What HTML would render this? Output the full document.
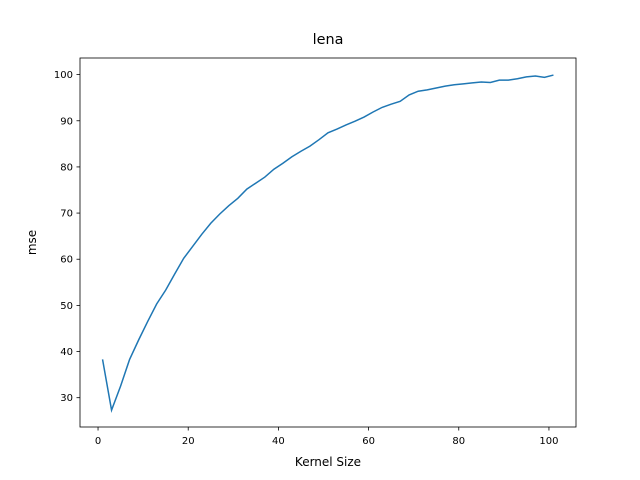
<!DOCTYPE html>
<html><head><meta charset="utf-8"><style>body{margin:0;background:#fff}svg{display:block;font-family:"DejaVu Sans","Liberation Sans",sans-serif}</style></head>
<body>
<svg id="chart" width="640" height="480">
<rect width="640" height="480" fill="#fff"/>
<text x="328" y="44" font-size="14.4" text-anchor="middle">lena</text>
<g id="ticks"></g>
<path id="line" fill="none" stroke="#1f77b4" stroke-width="1.5"/>
<rect x="80" y="58" width="496" height="369" fill="none" stroke="#000" stroke-width="0.8"/>
<text x="328" y="466" font-size="12" text-anchor="middle">Kernel Size</text>
<text x="36" y="242.5" font-size="12" text-anchor="middle" transform="rotate(-90 36 242.5)">mse</text>
</svg>
<script>
const kernelSizes = [1,3,5,7,9,11,13,15,17,19,21,23,25,27,29,31,33,35,37,39,41,43,45,47,49,51,53,55,57,59,61,63,65,67,69,71,73,75,77,79,81,83,85,87,89,91,93,95,97,99,101];
const mseValues = [38.3,27.3,32.5,38.3,42.5,46.5,50.3,53.3,56.8,60.2,62.8,65.4,67.8,69.8,71.6,73.2,75.2,76.5,77.8,79.5,80.8,82.2,83.4,84.5,85.9,87.4,88.2,89.1,89.9,90.8,91.9,92.9,93.6,94.2,95.6,96.4,96.7,97.1,97.5,97.8,98.0,98.2,98.4,98.3,98.8,98.8,99.1,99.5,99.7,99.4,99.9];
const xTicks = [0,20,40,60,80,100];
const yTicks = [30,40,50,60,70,80,90,100];
const x0=80,x1=576,y0=427,y1=58;
const xmin=-4,xmax=106,ymin=23.65,ymax=103.6;
const sx=v=>x0+(v-xmin)/(xmax-xmin)*(x1-x0);
const sy=v=>y0-(v-ymin)/(ymax-ymin)*(y0-y1);
const NS="http://www.w3.org/2000/svg";
const g=document.getElementById('ticks');
function mk(t,a){const e=document.createElementNS(NS,t);for(const k in a)e.setAttribute(k,a[k]);g.appendChild(e);return e;}
xTicks.forEach(v=>{
  const l=mk('line',{x1:sx(v),x2:sx(v),y1:y0,y2:y0+3.5,stroke:'#000','stroke-width':0.8});
  
  
  const t=mk('text',{x:sx(v),y:y0+17,'font-size':10,'text-anchor':'middle'});t.textContent=v;
  
  
});
yTicks.forEach(v=>{
  const l=mk('line',{x1:x0-3.5,x2:x0,y1:sy(v),y2:sy(v),stroke:'#000','stroke-width':0.8});
  
  
  const t=mk('text',{x:x0-7,y:sy(v)+3.5,'font-size':10,'text-anchor':'end'});t.textContent=v;
  
  
});
document.getElementById('line').setAttribute('d',kernelSizes.map((k,i)=>(i?'L':'M')+sx(k).toFixed(2)+' '+sy(mseValues[i]).toFixed(2)).join(' '));
</script>
</body></html>
